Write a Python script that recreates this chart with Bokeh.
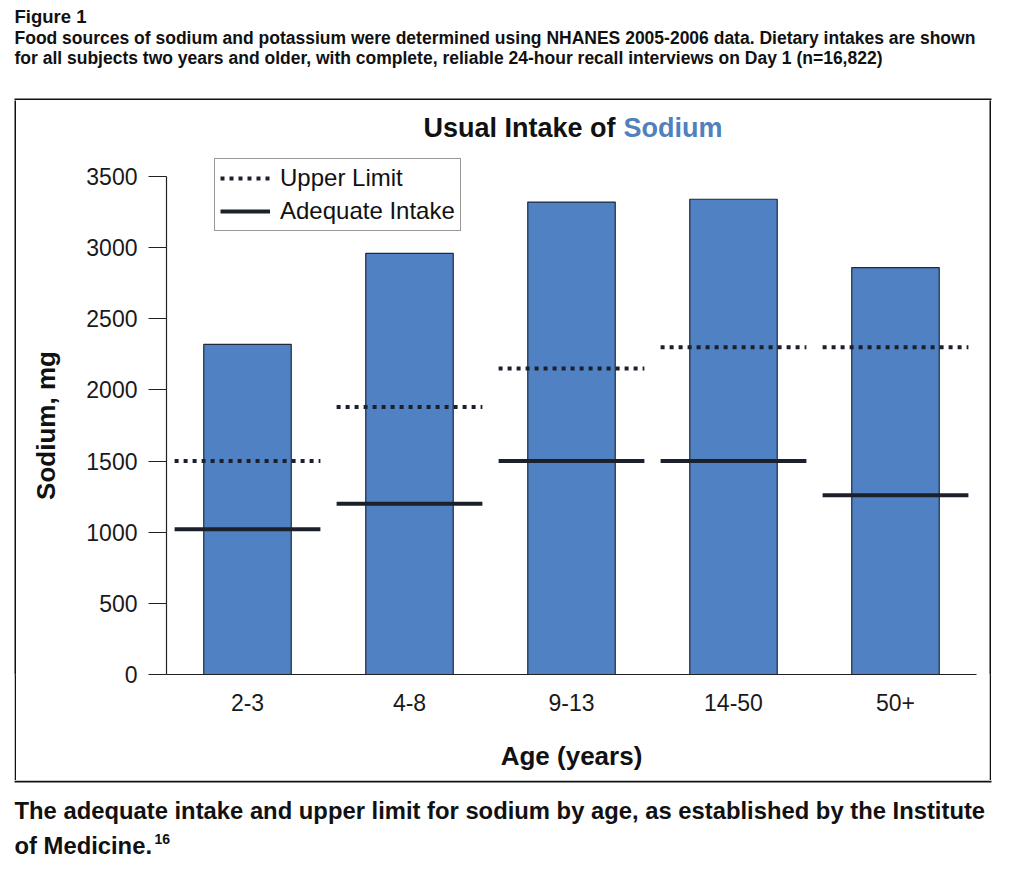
import math
from bokeh.plotting import figure
from bokeh.layouts import column, row
from bokeh.models import (ColumnDataSource, Range1d, FactorRange, FixedTicker, Label,
                          BoxAnnotation, Legend, LegendItem, Spacer)
from bokeh.transform import dodge
from bokeh.embed import file_html
from bokeh.resources import INLINE

# ---- data ----
age_groups = ["2-3", "4-8", "9-13", "14-50", "50+"]
usual_intake = [2320, 2960, 3320, 3340, 2860]
upper_limit = [1500, 1880, 2150, 2300, 2300]
adequate_intake = [1020, 1200, 1500, 1500, 1260]
y_ticks = [0, 500, 1000, 1500, 2000, 2500, 3000, 3500]

header_lines = ["Figure 1",
                "Food sources of sodium and potassium were determined using NHANES 2005-2006 data. Dietary intakes are shown",
                "for all subjects two years and older, with complete, reliable 24-hour recall interviews on Day 1 (n=16,822)"]
caption_lines = ["The adequate intake and upper limit for sodium by age, as established by the Institute",
                 "of Medicine."]
caption_ref = "16"
y_label = "Sodium, mg"
x_label = "Age (years)"

FONT = "Liberation Sans"
BAR = "#4f81c3"
LINE = "#1c202b"
INK = "#111111"
PAGE_W = 1005


def blank_fig(w, h, fill="white"):
    f = figure(width=w, height=h, output_backend="svg", toolbar_location=None,
               x_axis_type=None, y_axis_type=None, min_border=0,
               x_range=Range1d(0, 1), y_range=Range1d(0, 1))
    f.outline_line_color = None
    f.grid.visible = False
    f.background_fill_color = fill
    f.border_fill_color = fill
    return f


# ---------------- header (page y 0..100) ----------------
TOP_H = 100
top = blank_fig(PAGE_W, TOP_H)
for txt, cy, size in zip(header_lines, [16, 37, 57], ["18.5px", "17.5px", "17.5px"]):
    top.add_layout(Label(x=14, y=TOP_H - cy, x_units="screen", y_units="screen",
                         text=txt, text_align="left", text_baseline="alphabetic",
                         text_font=FONT, text_font_size=size,
                         text_font_style="bold", text_color=INK))
top.add_layout(BoxAnnotation(left=14, right=991, bottom=0, top=2,
                             left_units="screen", right_units="screen",
                             top_units="screen", bottom_units="screen",
                             fill_color=INK, fill_alpha=1, line_color=None))

# ---------------- chart (page y 100..780) ----------------
CH_Y0, CH_H = 100, 680
CH_X0 = 70                  # chart figure starts here (page x)
FL, FB = 166, 674            # frame left / bottom in page pixels
frame_h = FB - CH_Y0         # frame starts at the chart top
y_end = 3500 * frame_h / (FB - 176)   # 3500 sits at page y = 176

src = ColumnDataSource(dict(age=age_groups, usual=usual_intake,
                            ul=upper_limit, ai=adequate_intake))

p = figure(width=989 - CH_X0, height=CH_H, output_backend="svg", toolbar_location=None,
           x_range=FactorRange(factors=age_groups, range_padding=0),
           y_range=Range1d(0, y_end),
           min_border_left=FL - CH_X0, min_border_right=989 - 976,
           min_border_top=0, min_border_bottom=CH_H - frame_h)
p.outline_line_color = None
p.grid.visible = False
p.background_fill_color = "white"
p.border_fill_color = "white"

p.vbar(x="age", top="usual", width=0.54, source=src,
       fill_color=BAR, line_color="#1f2a3d", line_width=1.2)

ul_r = p.segment(x0=dodge("age", -0.45, range=p.x_range), y0="ul",
                 x1=dodge("age", 0.45, range=p.x_range), y1="ul", source=src,
                 line_color=LINE, line_width=4, line_dash="4 5")
ai_r = p.segment(x0=dodge("age", -0.45, range=p.x_range), y0="ai",
                 x1=dodge("age", 0.45, range=p.x_range), y1="ai", source=src,
                 line_color=LINE, line_width=4)

ya = p.yaxis[0]
ya.ticker = FixedTicker(ticks=y_ticks)
ya.bounds = (0, 3500)
ya.minor_tick_line_color = None
ya.major_tick_in = 0
ya.major_tick_out = 18
ya.major_tick_line_color = "#222222"
ya.axis_line_color = "#222222"
ya.axis_line_width = 1.2
ya.major_label_text_font = FONT
ya.major_label_text_font_size = "23px"
ya.major_label_text_color = "#1a1a1a"
ya.major_label_standoff = 11

xa = p.xaxis[0]
xa.major_tick_in = 0
xa.major_tick_out = 0
xa.minor_tick_line_color = None
xa.axis_line_color = "#222222"
xa.axis_line_width = 1.2
xa.major_label_text_font = FONT
xa.major_label_text_font_size = "23px"
xa.major_label_text_color = "#1a1a1a"
xa.major_label_standoff = 19
xa.axis_label = x_label
xa.axis_label_text_font = FONT
xa.axis_label_text_font_size = "26px"
xa.axis_label_text_font_style = "bold"
xa.axis_label_text_color = INK
xa.axis_label_standoff = 27

legend = Legend(items=[LegendItem(label="Upper Limit", renderers=[ul_r]),
                       LegendItem(label="Adequate Intake", renderers=[ai_r])],
                location=(214 - FL, FB - 231), orientation="vertical",
                label_text_font=FONT, label_text_font_size="24px",
                label_text_color=INK,
                glyph_width=50, glyph_height=26, label_standoff=10,
                padding=5, spacing=5, margin=0,
                border_line_color="#333333", border_line_width=1.5,
                background_fill_color="white", background_fill_alpha=1)
p.add_layout(legend, "center")

# two-colour chart title
TITLE_CY = 127
p.add_layout(Label(x=615 - FL, y=FB - TITLE_CY, x_units="screen", y_units="screen",
                   text="Usual Intake of", text_align="right",
                   text_baseline="alphabetic", text_font=FONT,
                   text_font_size="27px", text_font_style="bold",
                   text_color=INK))
p.add_layout(Label(x=623 - FL, y=FB - TITLE_CY, x_units="screen", y_units="screen",
                   text="Sodium", text_align="left",
                   text_baseline="alphabetic", text_font=FONT,
                   text_font_size="27px", text_font_style="bold",
                   text_color="#4f81bd"))

# y-axis title, centred on the 0..3500 axis span.
# In a row the frames are aligned with the chart's frame (bottom at page y = FB).
ylab = blank_fig(CH_X0 - 16, CH_H)
ylab.add_layout(Label(x=45 - 16, y=FB - 425, x_units="screen", y_units="screen",
                      text=y_label, angle=math.pi / 2, text_align="center",
                      text_baseline="middle", text_font=FONT,
                      text_font_size="26px", text_font_style="bold",
                      text_color=INK))

left_edge = blank_fig(2, CH_H, fill=INK)
right_edge = blank_fig(2, CH_H, fill=INK)
middle = row(Spacer(width=14, height=CH_H), left_edge, ylab, p, right_edge)

# ---------------- caption (page y 780..870) ----------------
BOT_Y0, BOT_H = 780, 90
bot = blank_fig(PAGE_W, BOT_H)
bot.add_layout(BoxAnnotation(left=14, right=991, bottom=BOT_H - 2, top=BOT_H,
                             left_units="screen", right_units="screen",
                             top_units="screen", bottom_units="screen",
                             fill_color=INK, fill_alpha=1, line_color=None))
for txt, cy in zip(caption_lines, [810, 845]):
    bot.add_layout(Label(x=14, y=BOT_Y0 + BOT_H - cy, x_units="screen", y_units="screen",
                         text=txt, text_align="left", text_baseline="alphabetic",
                         text_font=FONT, text_font_size="23.8px",
                         text_font_style="bold", text_color=INK))
bot.add_layout(Label(x=154, y=BOT_Y0 + BOT_H - 838, x_units="screen", y_units="screen",
                     text=caption_ref, text_align="left", text_baseline="alphabetic",
                     text_font=FONT, text_font_size="14px",
                     text_font_style="bold", text_color=INK))

layout = column(top, middle, bot)
open("out.html", "w").write(file_html(layout, INLINE))
